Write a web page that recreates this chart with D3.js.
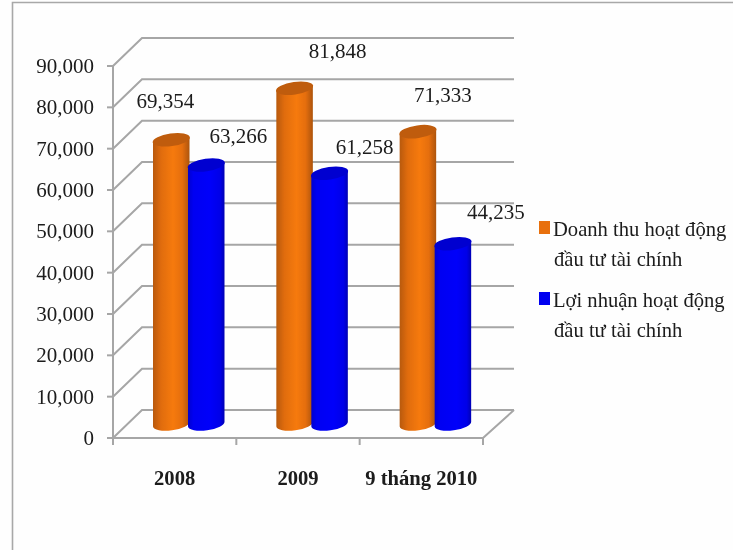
<!DOCTYPE html>
<html><head><meta charset="utf-8">
<script src="https://cdn.jsdelivr.net/npm/d3@7"></script>
<style>html,body{margin:0;padding:0;background:#fff}svg{display:block}text{font-family:"Liberation Serif",serif;fill:#1a1a1a}</style>
</head><body><svg id="c" width="733" height="550"></svg>
<script>
const categories = ["2008","2009","9 tháng 2010"];
const seriesNames = [["Doanh thu hoạt động","đầu tư tài chính"],["Lợi nhuận hoạt động","đầu tư tài chính"]];
const revenue = [69354,81848,71333];
const profit = [63266,61258,44235];
const valueTicks = [0,10000,20000,30000,40000,50000,60000,70000,80000,90000];
const colors = ["#e8700f","#0000f0"];
const labelDx = [[-6,43,25],[32,35,43]];
const labelDy = [[-37,-36,-35],[-28,-25,-30]];

const svg = d3.select("#c");
const W=733,H=550;
const defs = svg.append("defs");
defs.append("filter").attr("id","soft").append("feGaussianBlur").attr("stdDeviation",0.55);
function grad(id,stops){const g=defs.append("linearGradient").attr("id",id);
  stops.forEach(s=>g.append("stop").attr("offset",s[0]).attr("stop-color",s[1]));}
grad("g0",[[0,"#b8590a"],[0.22,"#e06c0d"],[0.55,"#f67a10"],[0.8,"#e56e0d"],[1,"#ad5408"]]);
grad("g1",[[0,"#0000d0"],[0.15,"#0000f2"],[0.6,"#0000fa"],[0.88,"#0000e8"],[1,"#0000b4"]]);

const root = svg.append("g").attr("filter","url(#soft)");
root.append("rect").attr("width",W).attr("height",H).attr("fill","#fefefe");
root.append("path").attr("d",`M12.5,${H}V2.5H${W}`).attr("fill","none").attr("stroke","#a8a8a8").attr("stroke-width",1.6);

const x = d3.scaleBand().domain(categories).range([113,483]);
const y = d3.scaleLinear().domain([0,90000]).range([438,66]);
const depthX=29, depthY=-28, backRight=514, gray="#a6a6a6";

const grid=root.append("g").attr("fill","none").attr("stroke",gray).attr("stroke-width",2);
valueTicks.forEach(v=>{
  grid.append("path").attr("d",`M${x.range()[0]},${y(v)}l${depthX},${depthY}H${backRight}`);
});
grid.append("path").attr("d",`M113,${y(90000)}V${y(0)}H483l${backRight-483},${depthY}`);
valueTicks.forEach(v=>grid.append("path").attr("d",`M107,${y(v)}H113`));
const xEdges=[...categories.map(c=>x(c)),483];
xEdges.forEach(e=>grid.append("path").attr("d",`M${e},${y(0)}v7`));

valueTicks.forEach(v=>root.append("text").attr("x",94).attr("y",y(v)+7)
  .attr("text-anchor","end").attr("font-size",21).text(d3.format(",")(v)));
categories.forEach(c=>root.append("text").attr("x",x(c)+x.bandwidth()/2).attr("y",485)
  .attr("text-anchor","middle").attr("font-size",20.6).attr("font-weight","bold").text(c));

const barW=36.5, barOff=40, ry=6.3, tilt=-8, sink=-11.5;
[revenue,profit].forEach((vals,s)=>{
  vals.forEach((v,i)=>{
    const left=x(categories[i])+barOff+s*35;
    const cx=left+barW/2, top=y(v)+sink, bot=y(0)-14;
    const rise=barW/2*Math.tan(-tilt*Math.PI/180);
    const g=root.append("g");
    g.append("path").attr("fill",`url(#g${s})`)
      .attr("d",`M${left},${top+rise}L${left},${bot+rise}A${barW/2},${ry} ${tilt} 0 0 ${left+barW},${bot-rise}L${left+barW},${top-rise}Z`);
    g.append("ellipse").attr("cx",cx).attr("cy",top).attr("rx",barW/2+0.5).attr("ry",ry)
      .attr("transform",`rotate(${tilt} ${cx} ${top})`)
      .attr("fill",s?"#0000d0":"#bf5c09");
  });
});
[revenue,profit].forEach((vals,s)=>vals.forEach((v,i)=>{
  const left=x(categories[i])+barOff+s*35;
  root.append("text").attr("x",left+barW/2+labelDx[s][i]).attr("y",y(v)-13+labelDy[s][i]+7)
    .attr("text-anchor","middle").attr("font-size",21).text(d3.format(",")(v));
}));

const legendTop=[236,307];
seriesNames.forEach((lines,s)=>{
  root.append("rect").attr("x",539).attr("y",legendTop[s]-15).attr("width",11).attr("height",13).attr("fill",colors[s]);
  lines.forEach((t,k)=>root.append("text").attr("x",k?554:553).attr("y",legendTop[s]+k*30).attr("font-size",20.6).text(t));
});
</script></body></html>
